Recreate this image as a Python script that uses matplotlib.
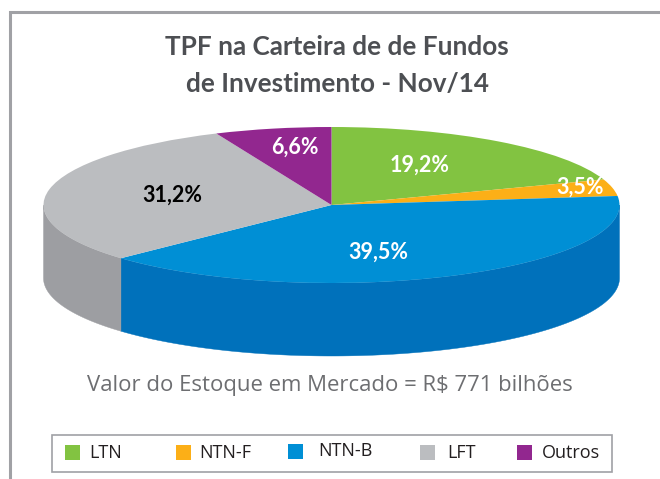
import numpy as np
import matplotlib
matplotlib.use("Agg")
import matplotlib.pyplot as plt
from matplotlib.patches import Rectangle, Polygon

labels = ["LTN", "NTN-F", "NTN-B", "LFT", "Outros"]
printed_values = [19.2, 3.5, 39.5, 31.2, 6.6]
# slice sizes as measured on the drawn ellipse of the picture
drawn_shares = [19.7, 3.45, 39.9, 30.4, 6.55]
top_colors = ["#82C341", "#FCAF17", "#008FD5", "#BBBDC0", "#92278F"]
side_colors = ["#6FA836", "#D9960F", "#0071BB", "#9D9EA2", "#7A1F78"]
label_colors = ["white", "white", "white", "black", "white"]
label_px = [(420, 165), (580, 187), (378, 252), (172, 195), (295, 147)]
legend_patch_x = [65, 176, 288, 420, 517]
legend_text_x = [89, 199, 318, 447, 542]
legend_y = [452, 452, 451, 452, 452]
title_lines = ["TPF na Carteira de de Fundos", "de Investimento - Nov/14"]
title_y = [47, 84]
note = "Valor do Estoque em Mercado = R$ 771 bilhões"

W, H = 660, 479
fig = plt.figure(figsize=(W / 100, H / 100), dpi=100)
page = fig.add_axes([0, 0, 1, 1])
page.set_xlim(0, W); page.set_ylim(H, 0); page.axis("off")

# outer frame
page.plot([10, 10, W + 5], [H + 5, 11.5, 11.5], color="#A0A1A5", lw=2.2, solid_joinstyle="miter")

# pie axes: unit circle mapped to the ellipse
left, right, ytop, ybot = 43.5, 619.5, 127, 283
pie_ax = fig.add_axes([left / W, 1 - ybot / H, (right - left) / W, (ybot - ytop) / H])
depth = 73 / 78

ang = 90 - np.cumsum([0] + drawn_shares) / np.sum(drawn_shares) * 360
for i in range(len(drawn_shares)):
    hi, lo = ang[i], ang[i + 1]
    a = np.linspace(hi, lo, 200)
    vis = a[np.sin(np.radians(a)) <= 0]
    if hi > 0 > lo:
        vis = np.r_[0, vis]
    if len(vis) > 1:
        xs, ys = np.cos(np.radians(vis)), np.sin(np.radians(vis))
        pts = np.r_[np.c_[xs, ys], np.c_[xs, ys - depth][::-1]]
        pie_ax.add_patch(Polygon(pts, closed=True, fc=side_colors[i], ec=side_colors[i],
                                 lw=0.3, clip_on=False, zorder=1))

wedges, _ = pie_ax.pie(drawn_shares, colors=top_colors, startangle=90, counterclock=False, radius=1,
                       wedgeprops=dict(lw=0, clip_on=False, zorder=2))
for w in wedges:
    w.set_zorder(2)
pie_ax.set_aspect("auto")
pie_ax.set_xlim(-1, 1); pie_ax.set_ylim(-1, 1)
pie_ax.axis("off")

page.set_zorder(3)
page.patch.set_alpha(0)
for line, y in zip(title_lines, title_y):
    page.text(337, y, line, ha="center", va="center", family="Lato", weight="bold",
              fontsize=18.8, color="#4D4F53")

for v, c, (x, y) in zip(printed_values, label_colors, label_px):
    page.text(x, y, f"{v:.1f}%".replace(".", ","), ha="center", va="center", family="Lato",
              weight="bold", fontsize=15.5, color=c)

page.text(330, 385, note, ha="center", va="center", family="Open Sans", fontsize=15.9, color="#6D6E71")

page.add_patch(Rectangle((51.5, 435), 560.5, 37, fc="white", ec="#A0A1A5", lw=1.2))
for lab, col, px, tx, y in zip(labels, top_colors, legend_patch_x, legend_text_x, legend_y):
    page.add_patch(Rectangle((px, y - 7.5), 15, 15, fc=col, ec="none"))
    page.text(tx, y + 0.5, lab, ha="left", va="center", family="Open Sans", fontsize=13, color="#231F20")

fig.savefig("out.png", dpi=100)
